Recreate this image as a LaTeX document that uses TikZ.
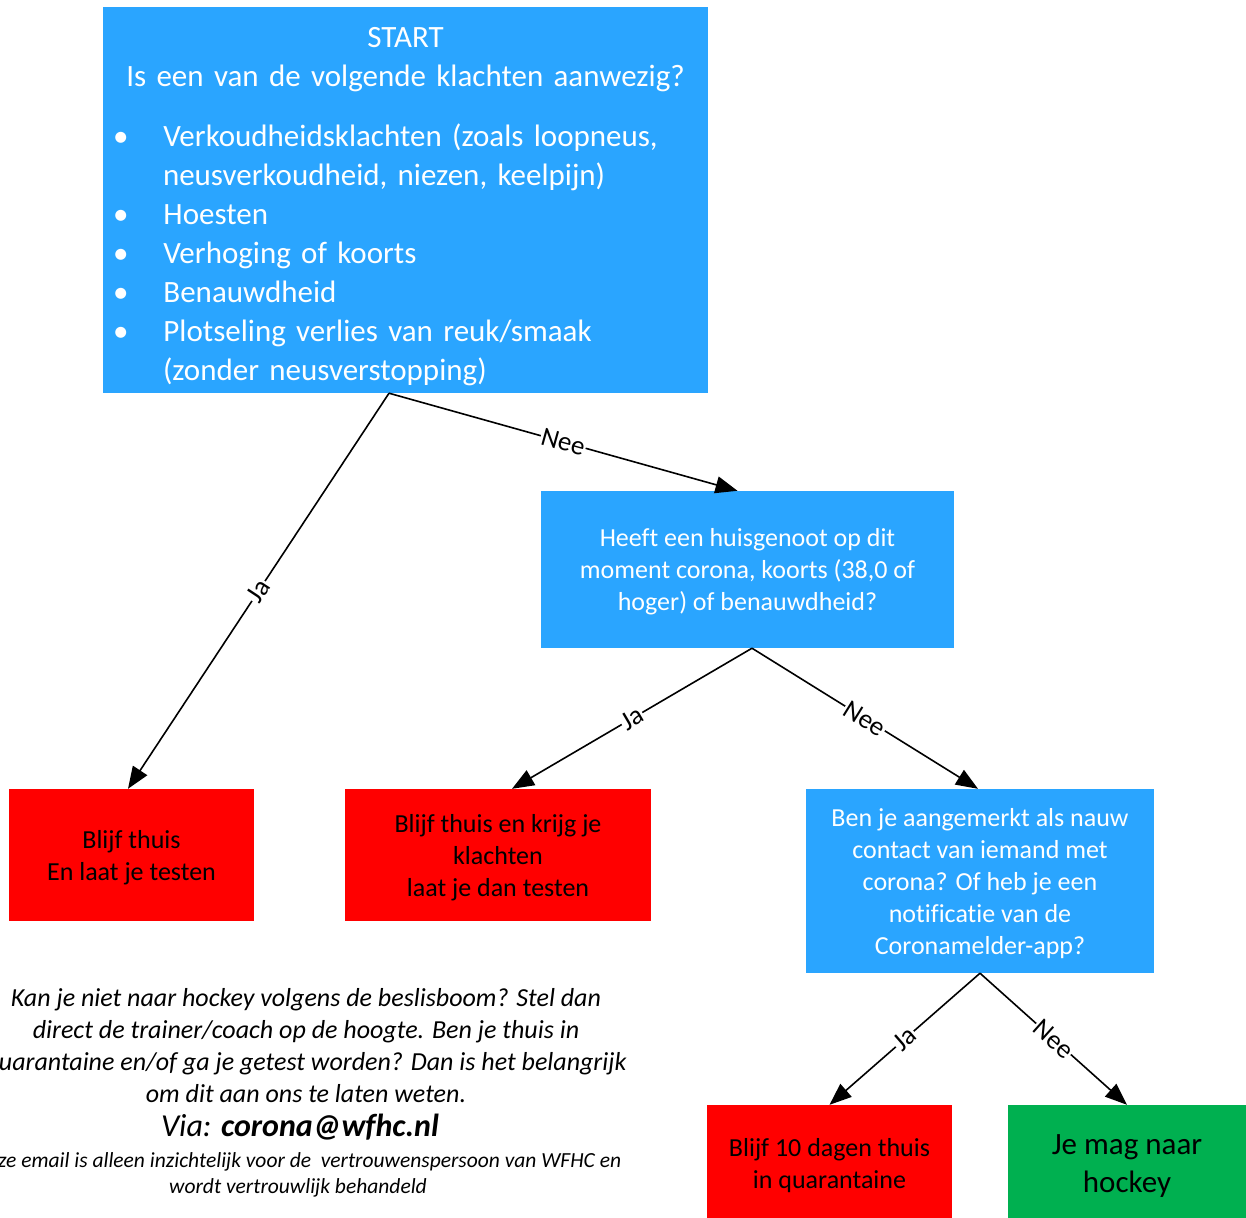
\documentclass[tikz,border=0pt]{standalone}
\usepackage{fontspec}
\setmainfont[Ligatures=NoCommon]{Carlito}
\usepackage{enumitem}
\usetikzlibrary{arrows.meta, positioning}
\definecolor{skyblue}{RGB}{42,165,255}
\definecolor{stopred}{RGB}{255,0,0}
\definecolor{gogreen}{RGB}{0,176,80}

\begin{document}
\begin{tikzpicture}[x=1pt, y=-1pt,
    bluebox/.style={fill=skyblue, text=white, align=center, inner sep=0pt, font=\fontsize{26}{32}\selectfont},
    redbox/.style={fill=stopred, text=black, align=center, inner sep=0pt, font=\fontsize{26}{32}\selectfont},
    greenbox/.style={fill=gogreen, text=black, align=center, inner sep=0pt, font=\fontsize{31}{38}\selectfont},
    flow/.style={line width=1.6pt, -{Triangle[length=22pt, width=17pt]}},
    choice/.style={midway, sloped, fill=white, inner sep=1pt, font=\fontsize{27}{30}\selectfont},
    notetext/.style={align=center, inner sep=0pt, font=\itshape\fontsize{26}{32}\selectfont}]
  \useasboundingbox (0,0) rectangle (1246,1217);

  % Nodes
  \node[bluebox, align=left, text width=585pt, inner xsep=10pt, minimum height=386pt, font=\fontsize{31}{39}\selectfont] (start) at (405.5,200) {%
    {\centering START\\Is een van de volgende klachten aanwezig?\par}
    \vspace{21pt}
    \begin{itemize}[leftmargin=50pt, labelwidth=15pt, labelsep=35pt, align=left, topsep=0pt, partopsep=0pt, itemsep=0pt, parsep=0pt, label=\textbullet]
      \item Verkoudheidsklachten (zoals loopneus,\newline neusverkoudheid, niezen, keelpijn)
      \item Hoesten
      \item Verhoging of koorts
      \item Benauwdheid
      \item Plotseling verlies van reuk/smaak\newline (zonder neusverstopping)
    \end{itemize}
    \vspace{-14pt}};
  \node[bluebox, minimum width=413pt, minimum height=157pt, text depth=0pt] (household) at (747.5,569.5) {Heeft een huisgenoot op dit\\moment corona, koorts (38,0 of\\hoger) of benauwdheid?};
  \node[redbox, minimum width=245pt, minimum height=132pt, text depth=0pt] (stayhome) at (131.5,855) {Blijf thuis\\En laat je testen};
  \node[redbox, minimum width=306pt, minimum height=132pt, text depth=0pt] (waittest) at (498,855) {Blijf thuis en krijg je\\klachten\\laat je dan testen};
  \node[bluebox, minimum width=348pt, minimum height=184pt, text depth=0pt] (contact) at (980,881) {Ben je aangemerkt als nauw\\contact van iemand met\\corona? Of heb je een\\notificatie van de\\Coronamelder-app?};
  \node[redbox, minimum width=245pt, minimum height=122pt] (quarantine) at (829.5,1166) {Blijf 10 dagen thuis\\in quarantaine};
  \node[greenbox, minimum width=238pt, minimum height=122pt] (hockey) at (1127,1166) {Je mag naar\\hockey};

  % Arrows
  \draw[flow] ([xshift=-16.5pt]start.south) -- node[choice] {Ja} ([xshift=-3.5pt]stayhome.north);
  \draw[flow] ([xshift=-16.5pt]start.south) -- node[choice] {Nee} ([xshift=-10pt]household.north);
  \draw[flow] ([xshift=4.5pt]household.south) -- node[choice] {Ja} ([xshift=14pt]waittest.north);
  \draw[flow] ([xshift=4.5pt]household.south) -- node[choice] {Nee} ([xshift=-2pt]contact.north);
  \draw[flow] (contact.south) -- node[choice] {Ja} (quarantine.north);
  \draw[flow] (contact.south) -- node[choice] {Nee} (hockey.north);

  % Note
  \node[notetext] (note) at (306,1046) {Kan je niet naar hockey volgens de beslisboom? Stel dan\\direct de trainer/coach op de hoogte. Ben je thuis in\\quarantaine en/of ga je getest worden? Dan is het belangrijk\\om dit aan ons te laten weten.};
  \node[notetext, font=\itshape\fontsize{32}{36}\selectfont, below=11pt of note, xshift=-6pt] (via) {Via: \textbf{corona@wfhc.nl}};
  \node[notetext, font=\itshape\fontsize{21.5}{26}\selectfont, below=11pt of via, xshift=-2pt] (private) {Deze email is alleen inzichtelijk voor de\ \ vertrouwenspersoon van WFHC en\\wordt vertrouwlijk behandeld};
\end{tikzpicture}
\end{document}
